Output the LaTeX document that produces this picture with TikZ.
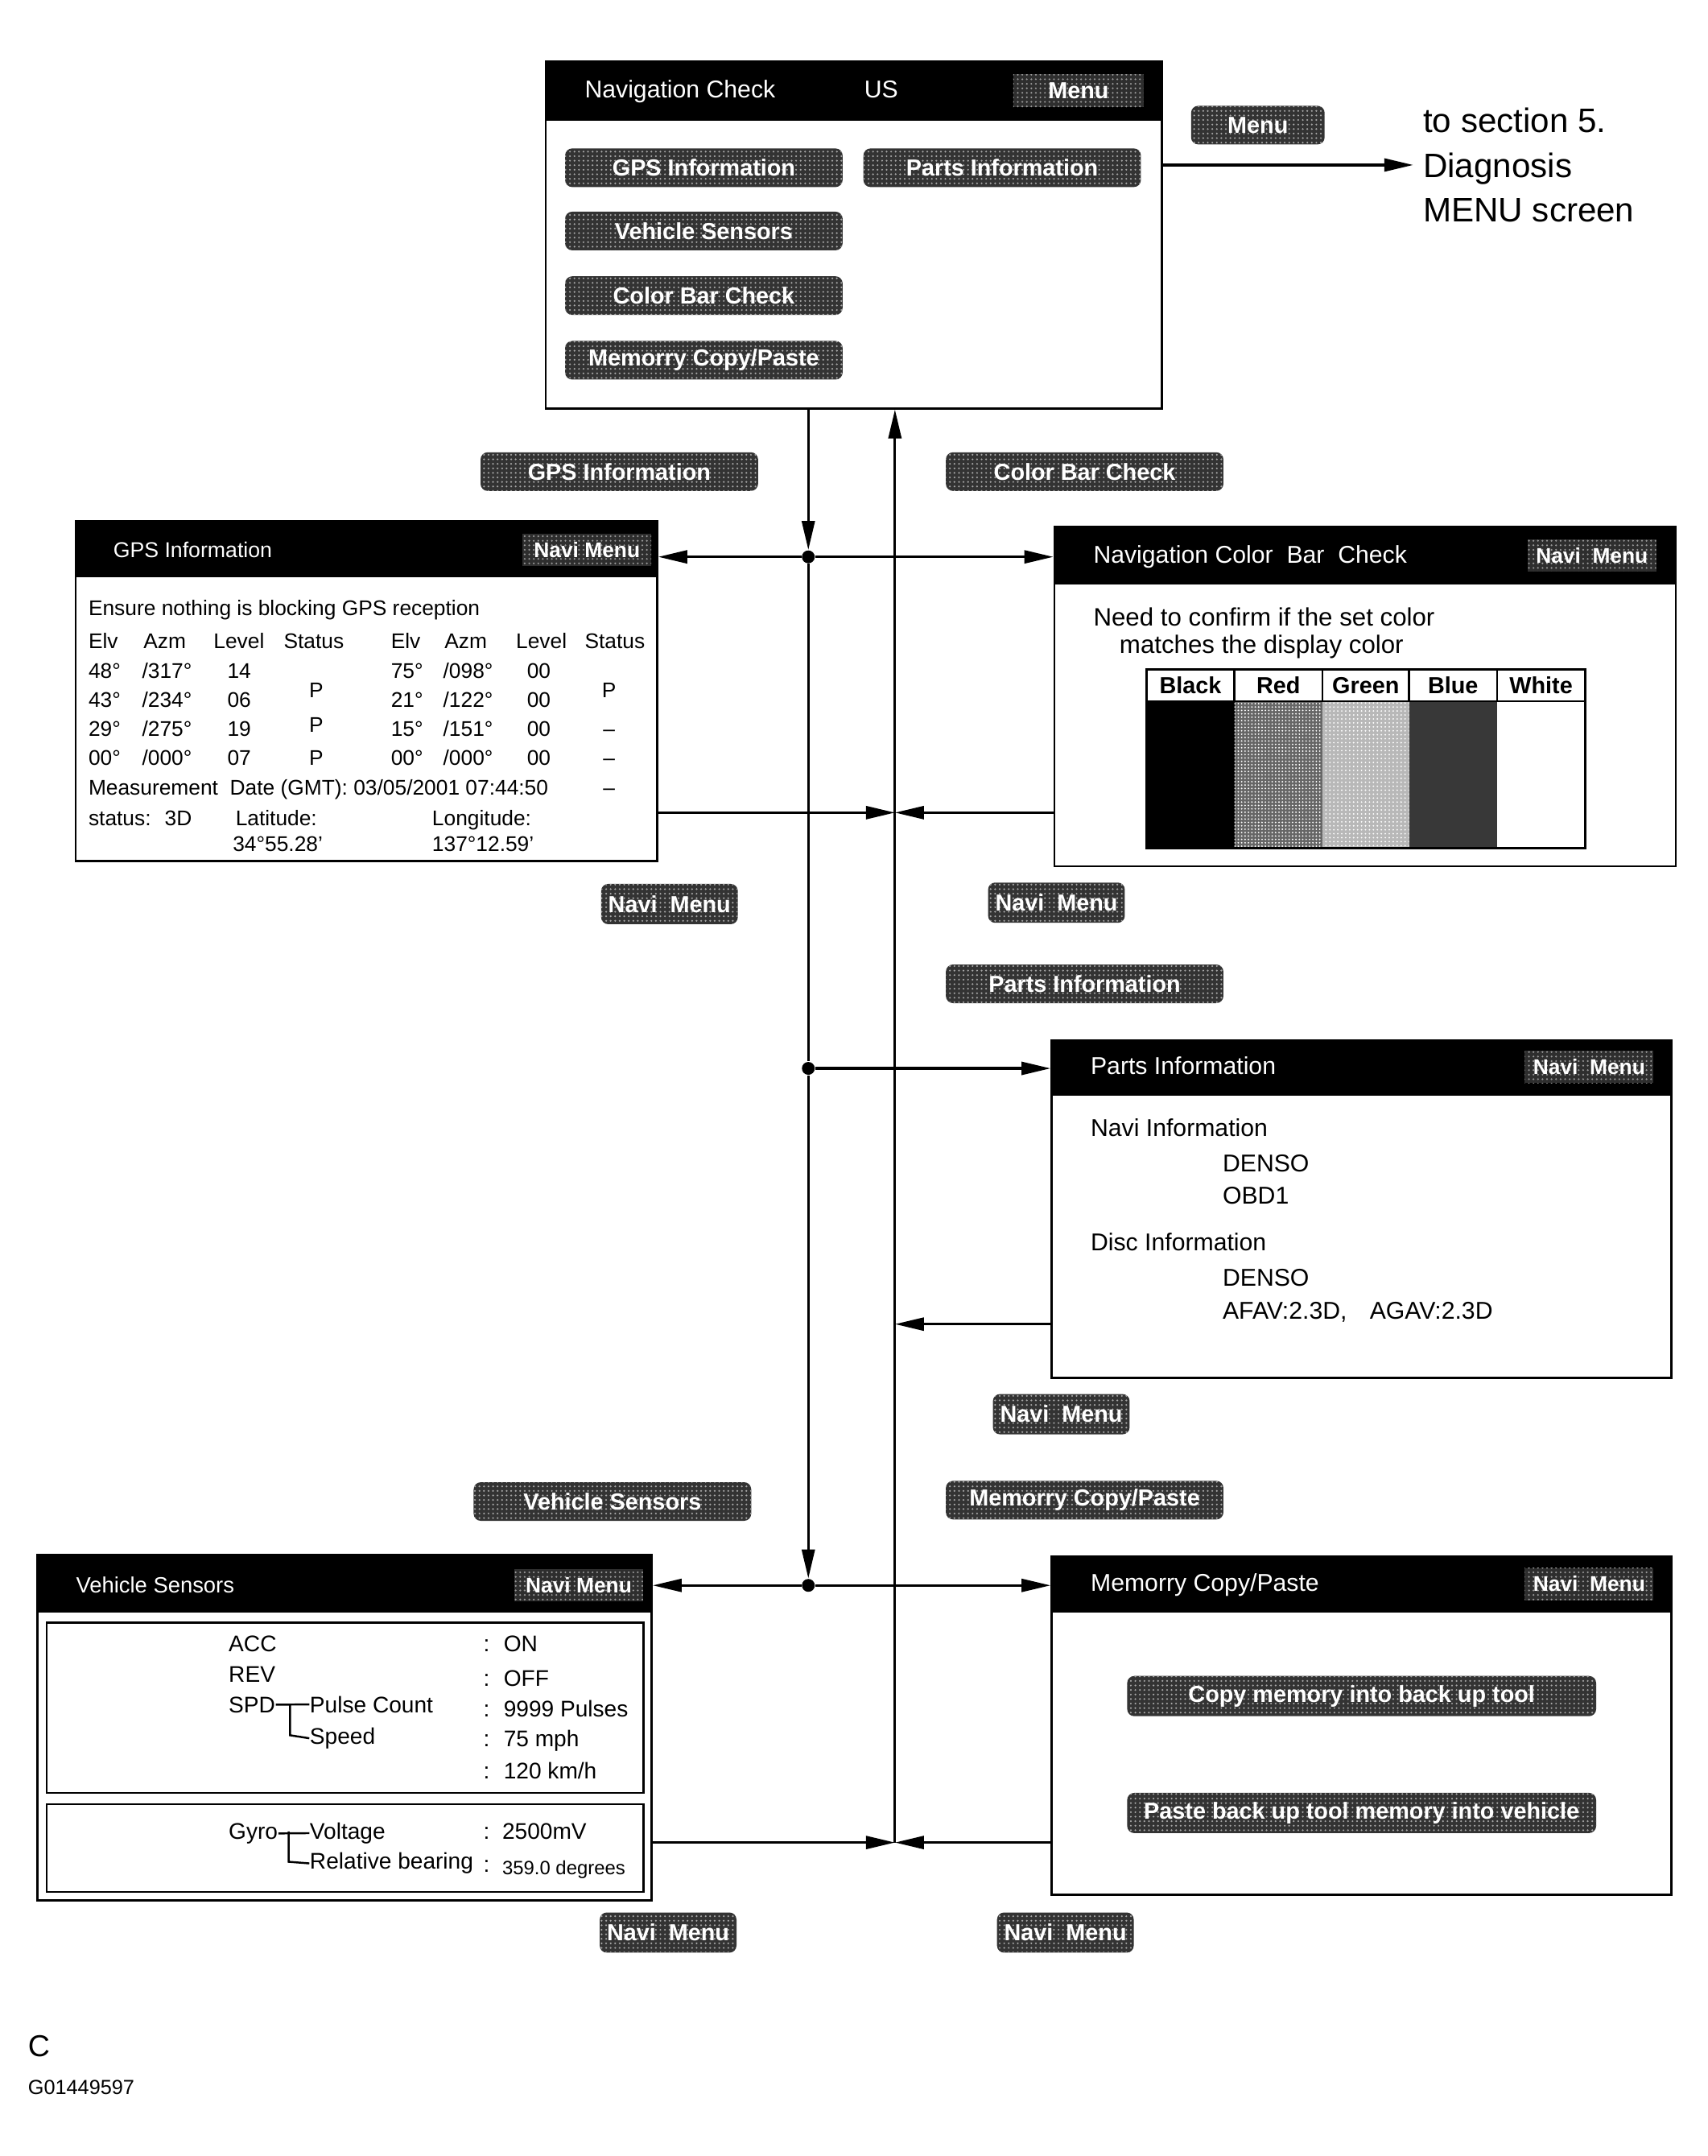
\documentclass[tikz,border=0pt]{standalone}
\usepackage{fontspec}
\setmainfont{Liberation Sans}
\usetikzlibrary{arrows.meta, fit, patterns.meta}

\tikzset{
  screen/.style={draw, line width=0.8pt, inner sep=0pt},
  btn/.style={fill=black!80, rounded corners=2.5pt, text=white, inner sep=0pt,
    font=\bfseries\fontsize{8.2}{9}\selectfont,
    minimum width=3.45cm, minimum height=0.48cm,
    postaction={pattern={Dots[distance=1.6pt, radius=0.35pt]}, pattern color=black!35}},
  navbtn/.style={btn, minimum width=1.7cm, minimum height=0.5cm},
  hdrbtn/.style={fill=black!82, text=white, inner sep=0pt,
    font=\bfseries\fontsize{7.5}{9}\selectfont,
    minimum width=1.6cm, minimum height=0.4cm,
    postaction={pattern={Dots[distance=1.6pt, radius=0.35pt]}, pattern color=black!40}},
  hdr/.style={text=white, anchor=mid west, inner sep=0pt, font=\fontsize{8.6}{10}\selectfont},
  txt/.style={anchor=mid west, inner sep=0pt, font=\fontsize{7.5}{9}\selectfont},
  ctxt/.style={txt, anchor=mid},
  flow/.style={line width=0.9pt},
  arr/.style={flow, -{Triangle[length=3.6mm, width=1.6mm]}},
  jdot/.style={circle, fill, inner sep=0pt, minimum size=1.6mm},
}

\begin{document}
\begin{tikzpicture}[x=0.017085cm, y=-0.017085cm]
  \useasboundingbox (0,0) rectangle (1242,1568);

  % Navigation check screen
  \node[screen, fit={(397,45) (845,297)}] (navchk) {};
  \fill (397,45) rectangle (845,88);
  \node[hdr] (navttl) at (425,66) {Navigation Check};
  \node[hdr, anchor=mid] (navus) at (641,66) {US};
  \node[hdrbtn, minimum width=1.62cm, minimum height=0.41cm,
        font=\bfseries\fontsize{8.2}{9}\selectfont] (navmenu) at (784.5,66) {Menu};
  \node[btn] (bgps) at (512,122) {GPS Information};
  \node[btn] (bparts) at (729,122) {Parts Information};
  \node[btn] (bveh) at (512,168) {Vehicle Sensors};
  \node[btn] (bcol) at (512,215) {Color Bar Check};
  \node[btn] (bmem) at (512,262) {Memorry Copy/Paste};

  % Exit to diagnosis menu
  \node[navbtn, minimum width=1.66cm, minimum height=0.48cm] (menulbl) at (915,91) {Menu};
  \node[anchor=west, align=left, font=\fontsize{12}{15.8}\selectfont] (diag) at (1028,120)
    {to section 5.\\Diagnosis\\MENU screen};
  \draw[arr] (navchk.east |- diag.west) -- (diag.west);

  % GPS information screen
  \node[screen, fit={(55,379) (478,626)}] (gpsscr) {};
  \fill (55,379) rectangle (478,420);
  \node[hdr, font=\fontsize{7.6}{9}\selectfont] (gpsttl) at (82,400) {GPS Information};
  \node[hdrbtn] (gpsnavi) at (427,400) {Navi Menu};
  \node[txt] (gpsmsg) at (64,442) {Ensure nothing is blocking GPS reception};
  \node[txt] (h1) at (64,466) {Elv};
  \node[txt] (h2) at (104,466) {Azm};
  \node[txt] (h3) at (155,466) {Level};
  \node[txt] (h4) at (206,466) {Status};
  \node[txt] (h5) at (284,466) {Elv};
  \node[txt] (h6) at (323,466) {Azm};
  \node[txt] (h7) at (375,466) {Level};
  \node[txt] (h8) at (425,466) {Status};
  \node[txt] (a1) at (64,488) {48°};
  \node[txt] (a2) at (103,488) {/317°};
  \node[txt] (a3) at (165,488) {14};
  \node[txt] (a5) at (284,488) {75°};
  \node[txt] (a6) at (322,488) {/098°};
  \node[txt] (a7) at (383,488) {00};
  \node[txt] (b1) at (64,509) {43°};
  \node[txt] (b2) at (103,509) {/234°};
  \node[txt] (b3) at (165,509) {06};
  \node[txt] (b5) at (284,509) {21°};
  \node[txt] (b6) at (322,509) {/122°};
  \node[txt] (b7) at (383,509) {00};
  \node[txt] (c1) at (64,530) {29°};
  \node[txt] (c2) at (103,530) {/275°};
  \node[txt] (c3) at (165,530) {19};
  \node[txt] (c5) at (284,530) {15°};
  \node[txt] (c6) at (322,530) {/151°};
  \node[txt] (c7) at (383,530) {00};
  \node[txt] (d1) at (64,551) {00°};
  \node[txt] (d2) at (103,551) {/000°};
  \node[txt] (d3) at (165,551) {07};
  \node[txt] (d5) at (284,551) {00°};
  \node[txt] (d6) at (322,551) {/000°};
  \node[txt] (d7) at (383,551) {00};
  \node[ctxt] (s1) at (230,502) {P};
  \node[ctxt] (s2) at (230,527) {P};
  \node[ctxt] (s3) at (230,551) {P};
  \node[ctxt] (s5) at (443,502) {P};
  \node[ctxt] (s6) at (443,530) {–};
  \node[ctxt] (s7) at (443,551) {–};
  \node[ctxt] (s8) at (443,573) {–};
  \node[txt] (gpsdate) at (64,573) {Measurement~ Date (GMT): 03/05/2001 07:44:50};
  \node[txt] (gpsstat) at (64,595) {status:~ 3D};
  \node[txt] (gpslat) at (171,595) {Latitude:};
  \node[txt] (gpslon) at (314,595) {Longitude:};
  \node[txt] (gpslatv) at (169,614) {34°55.28'};
  \node[txt] (gpslonv) at (314,614) {137°12.59'};

  % Color bar check screen
  \node[screen, fit={(767,383) (1219,630)}] (colscr) {};
  \fill (767,383) rectangle (1219,425);
  \node[hdr] (colttl) at (795,404) {Navigation Color~ Bar~ Check};
  \node[hdrbtn] (colnavi) at (1158,404) {Navi~ Menu};
  \node[txt, font=\fontsize{8.9}{10}\selectfont] (colmsg1) at (795,450) {Need to confirm if the set color};
  \node[txt, font=\fontsize{8.9}{10}\selectfont] (colmsg2) at (814,470) {matches the display color};
  \fill[black] (834,510) rectangle (898,617);
  \fill[black!60] (898,510) rectangle (962,617);
  \fill[pattern={Dots[distance=1.2pt, radius=0.3pt]}, pattern color=white] (898,510) rectangle (962,617);
  \fill[black!28] (962,510) rectangle (1025,617);
  \fill[pattern={Dots[distance=1.4pt, radius=0.3pt]}, pattern color=white] (962,510) rectangle (1025,617);
  \fill[black!78] (1025,510) rectangle (1089,617);
  \draw[line width=0.8pt] (834,487) rectangle (1153,617);
  \draw[line width=0.8pt] (834,510) -- (1153,510);
  \draw[line width=0.8pt] (898,487) -- (898,510);
  \draw[line width=0.8pt] (962,487) -- (962,510);
  \draw[line width=0.8pt] (1025,487) -- (1025,510);
  \draw[line width=0.8pt] (1089,487) -- (1089,510);
  \node[ctxt, font=\bfseries\fontsize{8.2}{9}\selectfont] (cblack) at (866,499) {Black};
  \node[ctxt, font=\bfseries\fontsize{8.2}{9}\selectfont] (cred) at (930,499) {Red};
  \node[ctxt, font=\bfseries\fontsize{8.2}{9}\selectfont] (cgreen) at (993.5,499) {Green};
  \node[ctxt, font=\bfseries\fontsize{8.2}{9}\selectfont] (cblue) at (1057,499) {Blue};
  \node[ctxt, font=\bfseries\fontsize{8.2}{9}\selectfont] (cwhite) at (1121,499) {White};

  % Parts information screen
  \node[screen, fit={(765,757) (1216,1002)}] (partscr) {};
  \fill (765,757) rectangle (1216,797);
  \node[hdr] (partttl) at (793,776) {Parts Information};
  \node[hdrbtn] (partnavi) at (1156,776) {Navi~ Menu};
  \node[txt, font=\fontsize{8.6}{10}\selectfont] (pnavi) at (793,821) {Navi Information};
  \node[txt, font=\fontsize{8.6}{10}\selectfont] (pden1) at (889,847) {DENSO};
  \node[txt, font=\fontsize{8.6}{10}\selectfont] (pobd) at (889,870) {OBD1};
  \node[txt, font=\fontsize{8.6}{10}\selectfont] (pdisc) at (793,904) {Disc Information};
  \node[txt, font=\fontsize{8.6}{10}\selectfont] (pden2) at (889,930) {DENSO};
  \node[txt, font=\fontsize{8.6}{10}\selectfont] (pafav) at (889,954) {AFAV:2.3D,};
  \node[txt, font=\fontsize{8.6}{10}\selectfont] (pagav) at (996,954) {AGAV:2.3D};

  % Vehicle sensors screen
  \node[screen, fit={(27,1131) (474,1382)}] (vehscr) {};
  \fill (27,1131) rectangle (474,1173);
  \node[hdr, font=\fontsize{7.8}{9}\selectfont] (vehttl) at (55,1153) {Vehicle Sensors};
  \node[hdrbtn] (vehnavi) at (421,1153) {Navi Menu};
  \draw[line width=0.7pt] (34,1180) rectangle (468,1304);
  \draw[line width=0.7pt] (34,1312) rectangle (468,1376);
  \node[txt, font=\fontsize{8}{9}\selectfont] (vacc) at (166,1196) {ACC};
  \node[txt, font=\fontsize{8}{9}\selectfont] (vrev) at (166,1218) {REV};
  \node[txt, font=\fontsize{8}{9}\selectfont] (vspd) at (166,1240) {SPD};
  \node[txt, font=\fontsize{8}{9}\selectfont] (vpulse) at (225,1240) {Pulse Count};
  \node[txt, font=\fontsize{8}{9}\selectfont] (vspeed) at (225,1263) {Speed};
  \draw[line width=0.7pt] (vspd.east) -- (vpulse.west);
  \draw[line width=0.7pt] (211,1240) -- (211,1262) -- (vspeed.west);
  \node[ctxt, font=\fontsize{8}{9}\selectfont] (k1) at (354,1196) {:};
  \node[ctxt, font=\fontsize{8}{9}\selectfont] (k2) at (354,1221) {:};
  \node[ctxt, font=\fontsize{8}{9}\selectfont] (k3) at (354,1243) {:};
  \node[ctxt, font=\fontsize{8}{9}\selectfont] (k4) at (354,1265) {:};
  \node[ctxt, font=\fontsize{8}{9}\selectfont] (k5) at (354,1288) {:};
  \node[txt, font=\fontsize{8}{9}\selectfont] (von) at (366,1196) {ON};
  \node[txt, font=\fontsize{8}{9}\selectfont] (voff) at (366,1221) {OFF};
  \node[txt, font=\fontsize{8}{9}\selectfont] (vpls) at (366,1243) {9999 Pulses};
  \node[txt, font=\fontsize{8}{9}\selectfont] (vmph) at (366,1265) {75 mph};
  \node[txt, font=\fontsize{8}{9}\selectfont] (vkmh) at (366,1288) {120 km/h};
  \node[txt, font=\fontsize{8}{9}\selectfont] (vgyro) at (166,1332) {Gyro};
  \node[txt, font=\fontsize{8}{9}\selectfont] (vvolt) at (225,1332) {Voltage};
  \node[txt, font=\fontsize{8}{9}\selectfont] (vbear) at (225,1354) {Relative bearing};
  \draw[line width=0.7pt] (vgyro.east) -- (vvolt.west);
  \draw[line width=0.7pt] (210,1332) -- (210,1354) -- (vbear.west);
  \node[ctxt, font=\fontsize{8}{9}\selectfont] (k6) at (354,1332) {:};
  \node[ctxt, font=\fontsize{8}{9}\selectfont] (k7) at (354,1356) {:};
  \node[txt, font=\fontsize{8}{9}\selectfont] (vmv) at (365,1332) {2500mV};
  \node[txt, font=\fontsize{6.8}{8}\selectfont] (vdeg) at (365,1358) {359.0 degrees};

  % Memory copy/paste screen
  \node[screen, fit={(765,1132) (1216,1378)}] (memscr) {};
  \fill (765,1132) rectangle (1216,1173);
  \node[hdr] (memttl) at (793,1152) {Memorry Copy/Paste};
  \node[hdrbtn] (memnavi) at (1156,1152) {Navi~ Menu};
  \node[btn, minimum width=5.83cm, minimum height=0.5cm] (bcopy) at (990.5,1233.5) {Copy memory into back up tool};
  \node[btn, minimum width=5.83cm, minimum height=0.5cm] (bpaste) at (990.5,1318.5) {Paste back up tool memory into vehicle};

  % Labels on the connectors
  \node[btn] (lgps) at (450.5,343) {GPS Information};
  \node[btn] (lcol) at (789,343) {Color Bar Check};
  \node[navbtn] (lgpsback) at (487,657.5) {Navi\ \ Menu};
  \node[navbtn] (lcolback) at (768.5,656.5) {Navi\ \ Menu};
  \node[btn] (lparts) at (789,715.5) {Parts Information};
  \node[navbtn] (lpartsback) at (772,1028.5) {Navi\ \ Menu};
  \node[btn] (lveh) at (445.5,1092) {Vehicle Sensors};
  \node[btn] (lmem) at (789,1091) {Memorry Copy/Paste};
  \node[navbtn] (lvehback) at (486,1405.5) {Navi\ \ Menu};
  \node[navbtn] (lmemback) at (775,1405.5) {Navi\ \ Menu};

  % Junctions on the outgoing line and return points
  \node[jdot] (jgps) at (588,405) {};
  \node[jdot] (jparts) at (588,777) {};
  \node[jdot] (jveh) at (588,1153) {};
  \coordinate (rgps) at (651,591);
  \coordinate (rparts) at (651,963);
  \coordinate (rveh) at (651,1340);

  % Outgoing line
  \draw[arr] (jgps |- navchk.south) -- (jgps);
  \draw[flow] (jgps) -- (jparts);
  \draw[arr] (jparts) -- (jveh);
  \draw[arr] (jgps) -- (jgps -| gpsscr.east);
  \draw[arr] (jgps) -- (jgps -| colscr.west);
  \draw[arr] (jparts) -- (jparts -| partscr.west);
  \draw[arr] (jveh) -- (jveh -| vehscr.east);
  \draw[arr] (jveh) -- (jveh -| memscr.west);

  % Return line
  \draw[arr] (rveh) -- (rveh |- navchk.south);
  \draw[arr] (rgps -| gpsscr.east) -- (rgps);
  \draw[arr] (rgps -| colscr.west) -- (rgps);
  \draw[arr] (rparts -| partscr.west) -- (rparts);
  \draw[arr] (rveh -| vehscr.east) -- (rveh);
  \draw[arr] (rveh -| memscr.west) -- (rveh);

  % Figure code
  \node[anchor=mid west, inner sep=0pt, font=\fontsize{10.7}{12}\selectfont] (figc) at (20,1490) {C};
  \node[anchor=mid west, inner sep=0pt, font=\fontsize{7.2}{9}\selectfont] (figid) at (20,1518) {G01449597};
\end{tikzpicture}
\end{document}
